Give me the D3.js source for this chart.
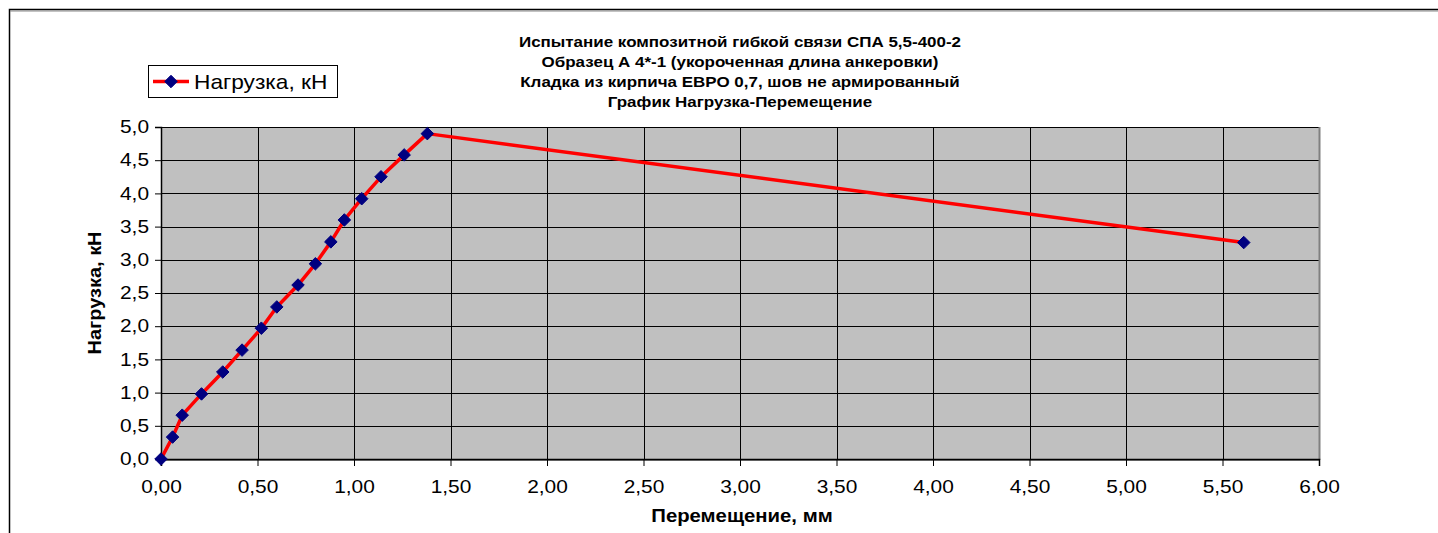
<!DOCTYPE html>
<html><head><meta charset="utf-8">
<script src="https://cdn.jsdelivr.net/npm/d3@7"></script>
<style>
html,body{margin:0;padding:0;background:#fff;}
svg{display:block;font-family:"Liberation Sans",Arial,Helvetica,sans-serif;}
</style></head>
<body>
<svg id="chart" width="1438" height="533"></svg>
<script>
const titleLines = [
  "Испытание композитной гибкой связи СПА 5,5-400-2",
  "Образец А 4*-1 (укороченная длина анкеровки)",
  "Кладка из кирпича ЕВРО 0,7, шов не армированный",
  "График Нагрузка-Перемещение"
];
const seriesName = "Нагрузка, кН";
const xTitle = "Перемещение, мм";
const yTitle = "Нагрузка, кН";
const displacement = [0, 0.06, 0.11, 0.21, 0.32, 0.42, 0.52, 0.60, 0.71, 0.80, 0.88, 0.95, 1.04, 1.14, 1.26, 1.38, 5.61];
const load =         [0, 0.33, 0.66, 0.98, 1.31, 1.64, 1.97, 2.29, 2.62, 2.94, 3.27, 3.60, 3.92, 4.25, 4.58, 4.90, 3.26];
const xTicks = [0, 0.5, 1, 1.5, 2, 2.5, 3, 3.5, 4, 4.5, 5, 5.5, 6];
const yTicks = [0, 0.5, 1, 1.5, 2, 2.5, 3, 3.5, 4, 4.5, 5];

const svg = d3.select("#chart");
const L = 161, R = 1319, T = 127, B = 459;
const x = d3.scaleLinear().domain([0, 6]).range([L, R]);
const y = d3.scaleLinear().domain([0, 5]).range([B, T]);
const fmt = (d, n) => d.toFixed(n).replace(".", ",");

function stretch(sel, k) {
  sel.each(function () {
    const len = this.getComputedTextLength();
    d3.select(this).attr("textLength", len * k).attr("lengthAdjust", "spacingAndGlyphs");
  });
}

// chart area frame
svg.append("rect").attr("x", 9.5).attr("y", 9.5).attr("width", 1460).attr("height", 560)
  .attr("fill", "#fff").attr("stroke", "#000").attr("stroke-width", 1.5);
svg.append("line").attr("x1", 10).attr("x2", 1438).attr("y1", 11).attr("y2", 11).attr("stroke", "#888").attr("stroke-width", 1);

// plot area
svg.append("rect").attr("x", L).attr("y", T).attr("width", R - L).attr("height", B - T)
  .attr("fill", "#c0c0c0");

// grid lines
svg.append("g").selectAll("line").data(yTicks).join("line")
  .attr("x1", L).attr("x2", R).attr("y1", d => Math.round(y(d)) + 0.5).attr("y2", d => Math.round(y(d)) + 0.5)
  .attr("stroke", "#000").attr("stroke-width", 1);
svg.append("g").selectAll("line").data(xTicks.filter(d => d > 0 && d < 6)).join("line")
  .attr("y1", T).attr("y2", B).attr("x1", d => Math.round(x(d)) + 0.5).attr("x2", d => Math.round(x(d)) + 0.5)
  .attr("stroke", "#000").attr("stroke-width", 1);

// plot border right / bottom (grey)
svg.append("line").attr("x1", R + 0.5).attr("x2", R + 0.5).attr("y1", T).attr("y2", B + 1)
  .attr("stroke", "#808080").attr("stroke-width", 2);
svg.append("line").attr("x1", L).attr("x2", R).attr("y1", B + 1.5).attr("y2", B + 1.5)
  .attr("stroke", "#808080").attr("stroke-width", 1);

// axes
const xAxis = d3.axisBottom(x).tickValues(xTicks).tickFormat(d => fmt(d, 2)).tickSize(7).tickPadding(14);
const gx = svg.append("g").attr("transform", `translate(0,${B})`).call(xAxis);
gx.select(".domain").attr("stroke", "#000").attr("stroke-width", 1.5);
gx.selectAll(".tick line").attr("stroke", "#000");
gx.selectAll("text").attr("font-size", 18).attr("fill", "#000").attr("font-family", "Liberation Sans, Arial, sans-serif");
stretch(gx.selectAll("text"), 1.16);

const yAxis = d3.axisLeft(y).tickValues(yTicks).tickFormat(d => fmt(d, 1)).tickSize(6).tickPadding(6);
const gy = svg.append("g").attr("transform", `translate(${L},0)`).call(yAxis);
gy.select(".domain").attr("stroke", "#000").attr("stroke-width", 1.5);
gy.selectAll(".tick line").attr("stroke", "#000");
gy.selectAll("text").attr("font-size", 18).attr("fill", "#000").attr("font-family", "Liberation Sans, Arial, sans-serif");
stretch(gy.selectAll("text"), 1.16);

// line
const pts = displacement.map((d, i) => [d, load[i]]);
svg.append("path").datum(pts)
  .attr("d", d3.line().x(d => x(d[0])).y(d => y(d[1])))
  .attr("fill", "none").attr("stroke", "#ff0000").attr("stroke-width", 3.5).attr("stroke-linejoin", "round");

const diamond = d3.symbol().type(d3.symbolDiamond2).size(100);
svg.append("g").selectAll("path").data(pts).join("path")
  .attr("d", diamond)
  .attr("transform", d => `translate(${x(d[0])},${y(d[1])})`)
  .attr("fill", "#000080").attr("stroke", "#000080").attr("stroke-width", 1);

// title
const tg = svg.append("g").attr("font-weight", "bold").attr("font-size", 14.5).attr("text-anchor", "middle");
tg.selectAll("text").data(titleLines).join("text")
  .attr("x", 740).attr("y", (d, i) => 47 + i * 20).text(d => d);
stretch(tg.selectAll("text"), 1.17);

// axis titles
const xt = svg.append("text").attr("x", 742).attr("y", 522).attr("text-anchor", "middle")
  .attr("font-weight", "bold").attr("font-size", 17.5).text(xTitle);
stretch(xt, 1.16);
const yt = svg.append("text").attr("transform", "translate(101,293) rotate(-90)").attr("text-anchor", "middle")
  .attr("font-weight", "bold").attr("font-size", 17.5).text(yTitle);
stretch(yt, 1.14);

// legend
const lg = svg.append("g");
lg.append("rect").attr("x", 148.5).attr("y", 65.5).attr("width", 189).attr("height", 32)
  .attr("fill", "#fff").attr("stroke", "#000").attr("stroke-width", 1);
lg.append("line").attr("x1", 153).attr("x2", 189).attr("y1", 81.5).attr("y2", 81.5)
  .attr("stroke", "#ff0000").attr("stroke-width", 3.5);
lg.append("path").attr("d", diamond).attr("transform", "translate(171,81.5)")
  .attr("fill", "#000080").attr("stroke", "#000080");
const lt = lg.append("text").attr("x", 194).attr("y", 89).attr("font-size", 21).text(seriesName);
stretch(lt, 1.08);
</script>
</body></html>
